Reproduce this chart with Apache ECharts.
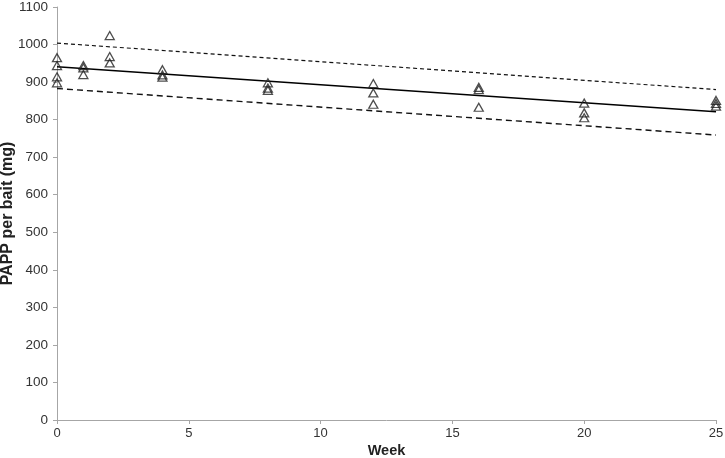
<!DOCTYPE html>
<html>
<head>
<meta charset="utf-8">
<script src="https://cdn.jsdelivr.net/npm/echarts@6/dist/echarts.min.js"></script>
<style>
  html, body { margin: 0; padding: 0; background: #fff; }
  #chart { width: 725px; height: 458px; }
</style>
</head>
<body>
<div id="chart"></div>
<script>
// observed PAPP per bait (week, mg)
var weeks = [0, 0, 0, 0, 1, 1, 1, 2, 2, 2, 4, 4, 4, 8, 8, 8, 12, 12, 12, 16, 16, 16, 20, 20, 20, 25, 25, 25]
var papp = [965, 944, 914, 898, 944, 938, 920, 1024, 968, 951, 933, 919, 913, 898, 884, 878, 896, 871, 841, 886, 880, 833, 844, 818, 805, 851, 843, 836]
// regression line + bounds (values at week 0 and 25)
var fitX = [0, 25]
var fitY = [941, 821]
var upperY = [1004, 880]
var lowerY = [883, 759]

function pairs(xs, ys) {
  var out = []
  for (var i = 0; i < xs.length; i++) {
    out.push([xs[i], ys[i]])
  }
  return out
}

var chart = echarts.init(document.getElementById('chart'))
var axisColor = '#a6a6a6'
var labelColor = '#333'
chart.setOption({
  animation: false,
  grid: { left: 57, right: 9, top: 7, bottom: 38, containLabel: false, outerBoundsMode: 'none' },
  xAxis: {
    type: 'value',
    min: 0,
    max: 25,
    interval: 5,
    name: 'Week',
    nameLocation: 'middle',
    nameGap: 23,
    nameMoveOverlap: false,
    nameTextStyle: { fontFamily: 'Liberation Sans', fontWeight: 'bold', fontSize: 14.5, color: '#222' },
    axisLine: { lineStyle: { color: axisColor } },
    axisTick: { length: 4, lineStyle: { color: axisColor } },
    axisLabel: { fontFamily: 'Liberation Sans', fontSize: 13, color: labelColor, margin: 7 },
    splitLine: { show: false }
  },
  yAxis: {
    type: 'value',
    min: 0,
    max: 1100,
    interval: 100,
    name: 'PAPP per bait (mg)',
    nameLocation: 'middle',
    nameGap: 41,
    nameMoveOverlap: false,
    nameTextStyle: { fontFamily: 'Liberation Sans', fontWeight: 'bold', fontSize: 16, color: '#222' },
    axisLine: { show: true, lineStyle: { color: axisColor } },
    axisTick: { show: true, length: 4, lineStyle: { color: axisColor } },
    axisLabel: {
      fontFamily: 'Liberation Sans', fontSize: 13.5, color: labelColor, margin: 9,
      formatter: function (v) { return String(v) }
    },
    splitLine: { show: false }
  },
  series: [
    {
      type: 'line',
      data: pairs(fitX, upperY),
      symbol: 'none',
      lineStyle: { color: '#111', width: 1.2, type: [4, 3] }
    },
    {
      type: 'line',
      data: pairs(fitX, lowerY),
      symbol: 'none',
      lineStyle: { color: '#111', width: 1.4, type: [6, 4] }
    },
    {
      type: 'line',
      data: pairs(fitX, fitY),
      symbol: 'none',
      lineStyle: { color: '#000', width: 1.6 }
    },
    {
      type: 'scatter',
      data: pairs(weeks, papp),
      symbol: 'triangle',
      symbolSize: [9, 8],
      itemStyle: { color: 'rgba(255,255,255,0)', borderColor: '#222', borderWidth: 1.3 },
      z: 5
    }
  ]
})
</script>
</body>
</html>
